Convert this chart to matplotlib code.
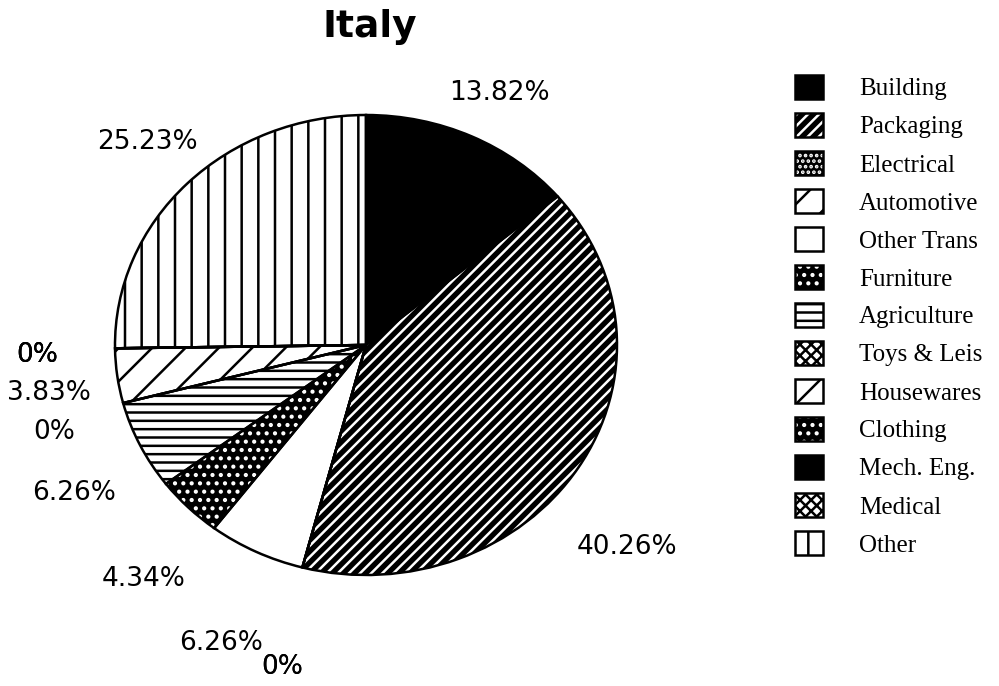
import numpy as np
import matplotlib.pyplot as plt
from matplotlib.legend_handler import HandlerTuple

# Italy - end use shares (%)
categories = ['Building', 'Packaging', 'Electrical', 'Automotive', 'Other Trans',
              'Furniture', 'Agriculture', 'Toys & Leis', 'Housewares', 'Clothing',
              'Mech. Eng.', 'Medical', 'Other']
shares = [13.82, 40.26, 0, 0, 6.26, 4.34, 6.26, 0, 3.83, 0, 0, 0, 25.23]

# fill style for each sector (black & white print look)
faces = ['black', 'black', 'black', 'white', 'white', 'black', 'white',
         'white', 'white', 'black', 'black', 'white', 'white']
hatch_cols = ['black', 'white', 'white', 'black', 'black', 'white', 'black',
              'black', 'black', 'white', 'black', 'black', 'black']
hatches = [None, '///', '...', '/', None, '..', '--', 'xxx', '/', '..', None, 'xxx', '|']

plt.rcParams['hatch.linewidth'] = 1.8

fig = plt.figure(figsize=(9.99, 6.86), dpi=100)
ax = fig.add_axes([115 / 999, 1 - 575 / 686, 502 / 999, 460 / 686])

wedges, _ = ax.pie(shares, startangle=90, counterclock=False, radius=1,
                   colors=faces, wedgeprops=dict(linewidth=0))
for w, h, hc in zip(wedges, hatches, hatch_cols):
    w.set_hatch(h)
    w.set_edgecolor(hc)

# black outlines on top
outline, _ = ax.pie(shares, startangle=90, counterclock=False, radius=1,
                    colors=['none'] * len(shares),
                    wedgeprops=dict(linewidth=1.8, edgecolor='black'))
for w in outline:
    w.set_clip_on(False)

ax.set_aspect('auto')
ax.set_xlim(-1, 1)
ax.set_ylim(-1, 1)
ax.axis('off')

# percentage labels
cum = np.cumsum([0] + shares)
mids = 90 - 360 * (cum[:-1] + np.array(shares) / 2) / 100
ang_off = [-1, -8, 1.3, 1.3, 2, 4, 3, 2.4, 1.7, 1, 1, 1, -0.7]
label_r = [1.22, 1.36, 1.44, 1.44, 1.42, 1.35, 1.33, 1.30, 1.28, 1.31, 1.31, 1.31, 1.24]
for ang, off, r, v in zip(mids, ang_off, label_r, shares):
    a = np.radians(ang + off)
    ax.text(r * np.cos(a), r * np.sin(a), f'{v:g}%', ha='center', va='center',
            fontsize=19, clip_on=False)

fig.text(370 / 999, 1 - 37 / 686, 'Italy', ha='center', va='baseline',
         fontsize=27, fontweight='bold')

handles = list(zip(wedges, outline))
fig.legend(handles, categories, handler_map={tuple: HandlerTuple(ndivide=1, pad=0)},
           loc='upper left', bbox_to_anchor=(795 / 999, 1 - 75 / 686),
           frameon=False, prop=dict(family='Liberation Serif', size=18),
           handlelength=1.1, handleheight=1.1, handletextpad=1.45,
           labelspacing=0.5, borderpad=0, borderaxespad=0)

fig.savefig('out.png', dpi=100)
